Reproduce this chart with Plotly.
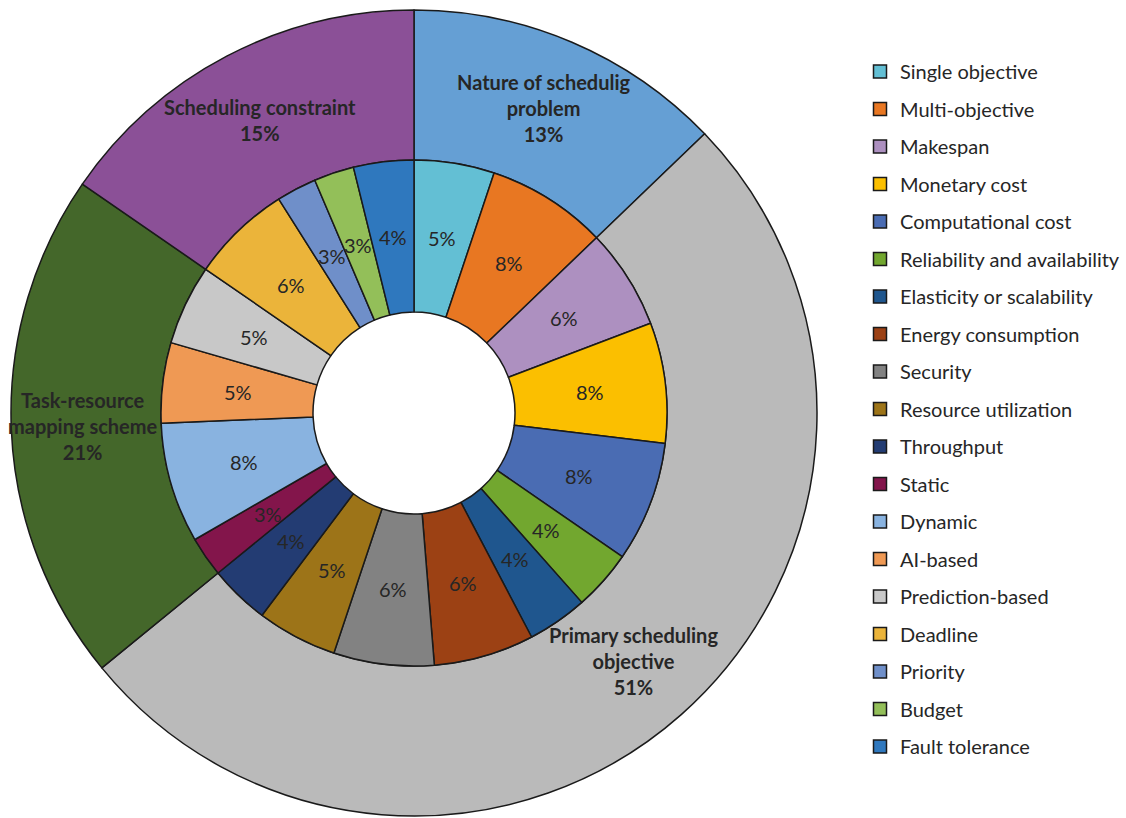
import math
import plotly.graph_objects as go

# ---------------- data ----------------
outer_labels = ["Nature of schedulig problem", "Primary scheduling objective",
                "Task-resource mapping scheme", "Scheduling constraint"]
outer_text = ["Nature of schedulig<br>problem", "Primary scheduling<br>objective",
              "Task-resource<br>mapping scheme", "Scheduling constraint"]
outer_values = [10, 40, 16, 12]
outer_colors = ["#659fd4", "#bababa", "#44672a", "#8b5097"]

inner_labels = ["Single objective", "Multi-objective", "Makespan", "Monetary cost",
                "Computational cost", "Reliability and availability",
                "Elasticity or scalability", "Energy consumption", "Security",
                "Resource utilization", "Throughput", "Static", "Dynamic", "AI-based",
                "Prediction-based", "Deadline", "Priority", "Budget", "Fault tolerance"]
inner_values = [4, 6, 5, 6, 6, 3, 3, 5, 5, 4, 3, 2, 6, 4, 4, 5, 2, 2, 3]
inner_colors = ["#63bfd4", "#e87722", "#ad90c0", "#fbbf00", "#4a6cb3", "#72a72f",
                "#1f568e", "#9c4114", "#828282", "#9d7418", "#233c73", "#83154b",
                "#89b3e0", "#ef9954", "#c8c8c8", "#ebb43a", "#6f8fc9", "#93bf59",
                "#2f78be"]

# ---------------- geometry ----------------
W, H = 1126, 818
cx, cy = 414, 413          # pixel centre (from top)
R_out, R_mid, R_in = 403, 253, 101
cyb = H - cy

FONT = "Lato"
FS = 20
TXT = "#262626"
EDGE = "#1a1a1a"

fig = go.Figure()

fig.add_trace(go.Pie(
    labels=outer_labels, values=outer_values,
    sort=False, direction="clockwise", rotation=0,
    hole=R_mid / R_out,
    domain=dict(x=[(cx - R_out) / W, (cx + R_out) / W],
                y=[(cyb - R_out) / H, (cyb + R_out) / H]),
    marker=dict(colors=outer_colors, line=dict(color=EDGE, width=1.5)),
    textinfo="none", showlegend=False, hoverinfo="label+percent",
))

fig.add_trace(go.Pie(
    labels=inner_labels, values=inner_values,
    sort=False, direction="clockwise", rotation=0,
    hole=R_in / R_mid,
    domain=dict(x=[(cx - R_mid) / W, (cx + R_mid) / W],
                y=[(cyb - R_mid) / H, (cyb + R_mid) / H]),
    marker=dict(colors=inner_colors, line=dict(color=EDGE, width=1.5)),
    textinfo="none", showlegend=False, hoverinfo="label+percent",
))


def ring_labels(values, texts, r, bold):
    total = sum(values)
    acc = 0.0
    for v, t in zip(values, texts):
        mid = (acc + v / 2) / total * 2 * math.pi
        acc += v
        px = cx + r * math.sin(mid)
        py = cy - r * math.cos(mid)
        pct = f"{round(100 * v / total)}%"
        txt = f"{t}<br>{pct}" if t else pct
        if bold:
            txt = f"<b>{txt}</b>"
        fig.add_annotation(x=px / W, y=1 - py / H, xref="paper", yref="paper",
                           text=txt, showarrow=False, xanchor="center",
                           yanchor="middle", align="center",
                           font=dict(family=FONT, size=FS, color=TXT))


ring_labels(outer_values, outer_text, (R_mid + R_out) / 2 + 3, True)
ring_labels(inner_values, [""] * len(inner_values), (R_in + R_mid) / 2, False)

# legend entries (one per inner category)
for lab, col in zip(inner_labels, inner_colors):
    fig.add_trace(go.Scatter(
        x=[None], y=[None], mode="markers", name=lab, legendgroup=lab,
        marker=dict(symbol="square", size=13, color=col,
                    line=dict(color=EDGE, width=1.5)),
        hoverinfo="skip",
    ))

fig.update_layout(
    width=W, height=H,
    margin=dict(l=0, r=0, t=0, b=0),
    paper_bgcolor="white", plot_bgcolor="white",
    font=dict(family=FONT, size=FS, color=TXT),
    xaxis=dict(visible=False), yaxis=dict(visible=False),
    legend=dict(x=860 / W, y=1 - 52 / H, xanchor="left", yanchor="top",
                tracegroupgap=8.5, font=dict(family=FONT, size=FS, color=TXT),
                bgcolor="rgba(0,0,0,0)", itemclick=False, itemdoubleclick=False),
)

fig.write_html("out.html")
